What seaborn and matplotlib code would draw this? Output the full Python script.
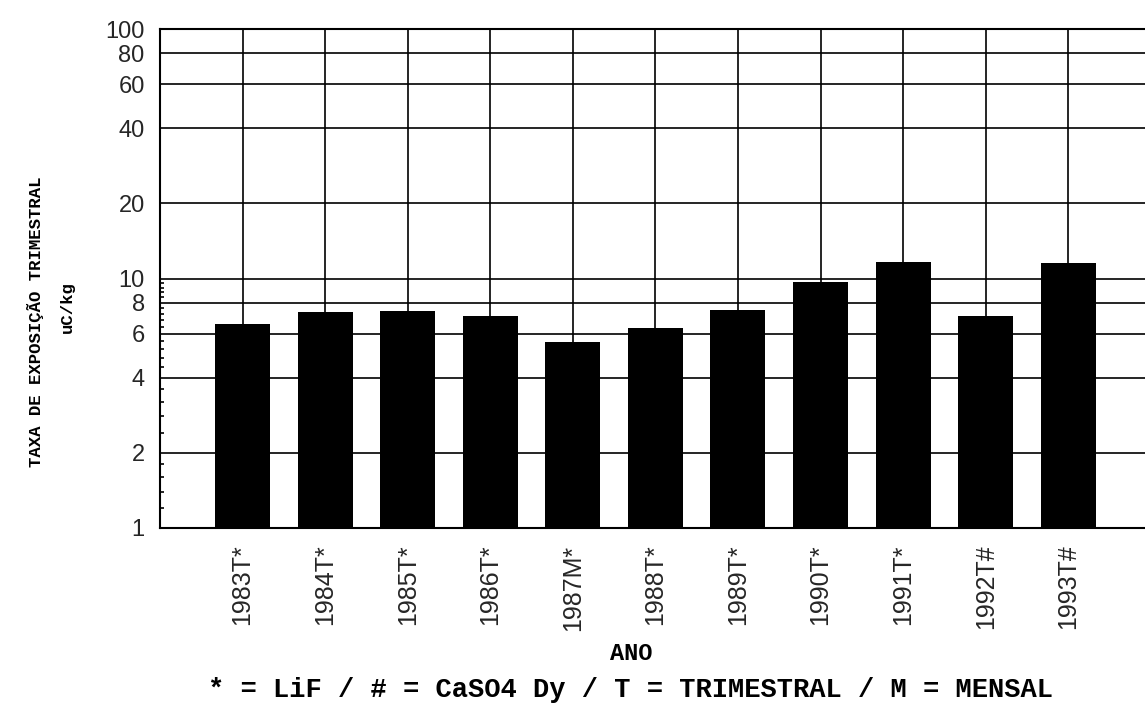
import matplotlib
matplotlib.use("Agg")
import matplotlib.pyplot as plt
import seaborn as sns
import pandas as pd

# Quarterly exposure rate per monitoring period
periods = ["1983T*", "1984T*", "1985T*", "1986T*", "1987M*", "1988T*",
           "1989T*", "1990T*", "1991T*", "1992T#", "1993T#"]
exposure = [6.55, 7.36, 7.4, 7.08, 5.56, 6.31, 7.48, 9.69, 11.66, 7.08, 11.49]

y_ticks = [1, 2, 4, 6, 8, 10, 20, 40, 60, 80, 100]
y_tick_labels = ["1", "2", "4", "6", "8", "10", "20", "40", "60", "80", "100"]
y_minor = [1.2, 1.4, 1.6, 1.8, 2.4, 2.8, 3.2, 3.6, 4.4, 4.8, 5.2, 5.6,
           6.4, 6.8, 7.2, 7.6, 8.4, 8.8, 9.2, 9.6]

df = pd.DataFrame({"periodo": periods, "taxa": exposure})

sns.set_theme(style="white")
plt.rcParams["font.family"] = ["Liberation Sans", "DejaVu Sans"]

fig = plt.figure(figsize=(11.45, 7.04), dpi=100)
ax = fig.add_axes([0.1397, 0.25, 0.8603, 0.7088])

ax.set_yscale("log")
sns.barplot(data=df, x="periodo", y="taxa", order=periods, color="black",
            edgecolor="black", linewidth=0, width=0.667, saturation=1,
            ax=ax, zorder=3)

ax.set_ylim(1, 100)
ax.set_xlim(-1.0, 10.93)

# grid: horizontal at labelled values, vertical through each bar
ax.set_yticks(y_ticks)
ax.set_yticklabels(y_tick_labels, fontsize=17)
ax.set_yticks(y_minor, minor=True)
ax.yaxis.set_minor_formatter(matplotlib.ticker.NullFormatter())
for v in y_ticks[1:-1]:
    ax.axhline(v, color="black", lw=1.2, zorder=1)
for i in range(len(periods)):
    ax.axvline(i, color="black", lw=1.2, zorder=1)

ax.tick_params(axis="y", which="major", length=0, pad=11)
ax.tick_params(axis="y", which="minor", direction="in", length=3,
               width=1.2, color="black", left=True)
ax.tick_params(axis="x", length=0, pad=12)
plt.setp(ax.get_xticklabels(), rotation=90, fontsize=18)

for side in ["left", "bottom", "top"]:
    ax.spines[side].set_visible(True)
    ax.spines[side].set_color("black")
    ax.spines[side].set_linewidth(1.5)
ax.spines["right"].set_visible(False)

ax.set_xlabel("")
ax.set_ylabel("")

mono = dict(family=["Liberation Mono", "DejaVu Sans Mono"], weight="bold",
            color="black")
fig.text(0.031, 0.543, "TAXA DE EXPOSIÇÃO TRIMESTRAL", rotation=90,
         ha="center", va="center", fontsize=12.5, **mono)
fig.text(0.0585, 0.564, "uC/kg", rotation=90, ha="center", va="center",
         fontsize=12.5, **mono)
fig.text(631 / 1145, 1 - 653 / 704, "ANO", ha="center", va="center",
         fontsize=17, **mono)
fig.text(630 / 1145, 1 - 690 / 704,
         "* = LiF / # = CaSO4 Dy / T = TRIMESTRAL / M = MENSAL",
         ha="center", va="center", fontsize=19.5, **mono)

fig.savefig("out.png", dpi=100, facecolor="white")
